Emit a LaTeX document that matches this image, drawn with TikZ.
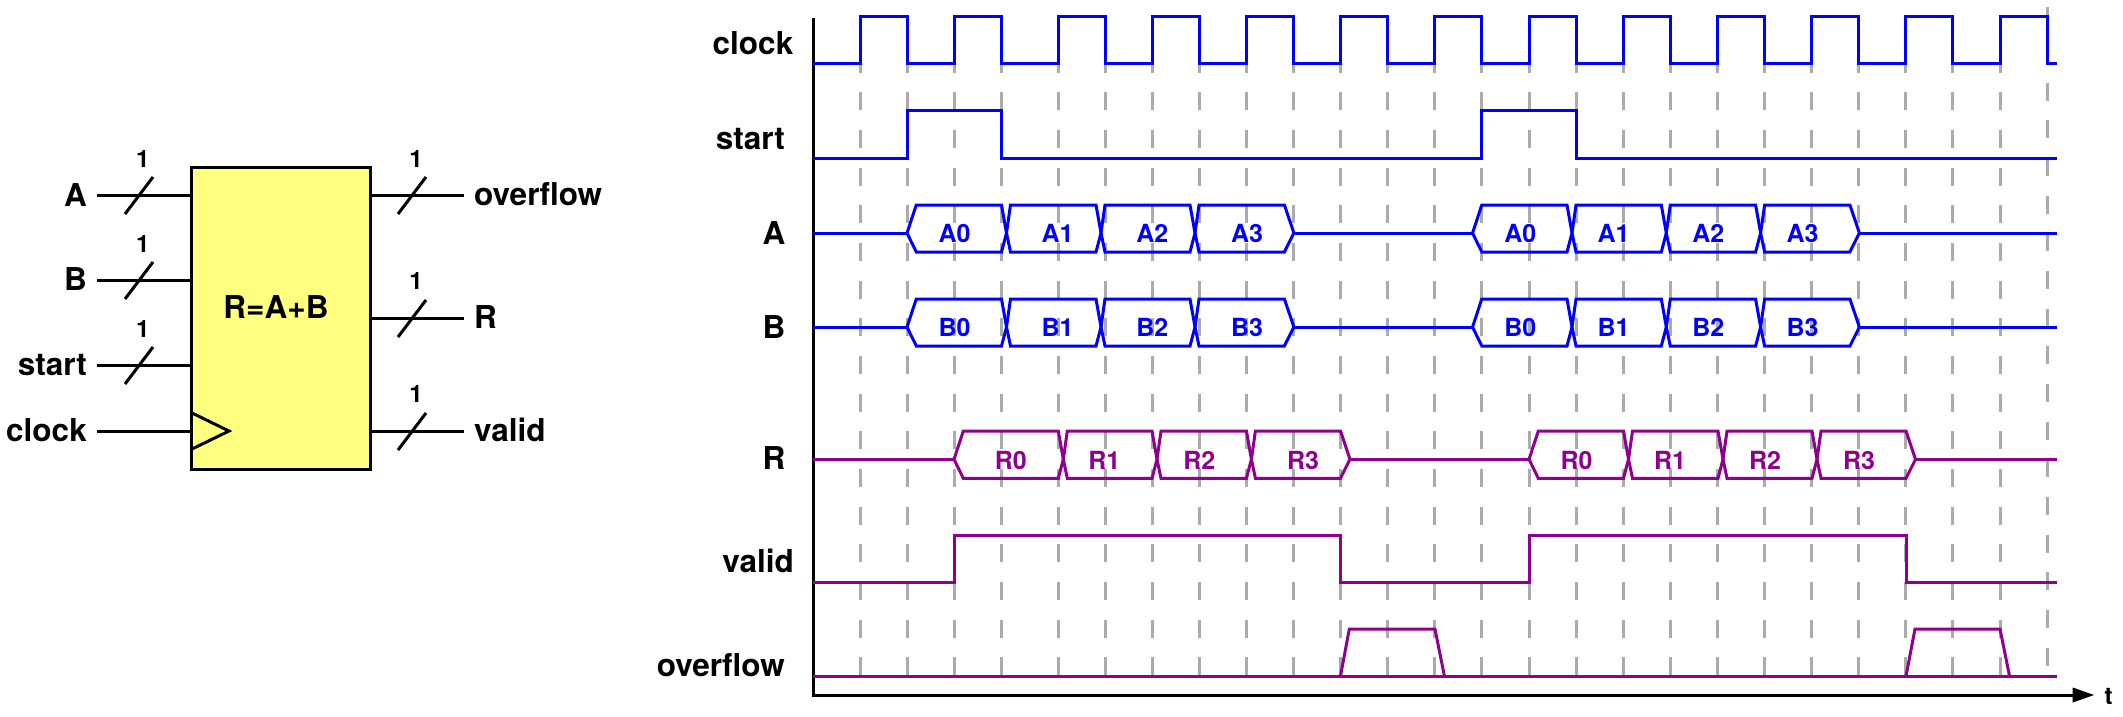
\documentclass[tikz,border=0pt]{standalone}
\usepackage{fontspec}
\setmainfont{TeX Gyre Heros}
\definecolor{sigblue}{HTML}{0000FF}
\definecolor{sigpurple}{HTML}{8F008F}
\definecolor{gridgray}{HTML}{ABABAB}
\definecolor{blockyellow}{HTML}{FFFF80}
\tikzset{
  lbl/.style={font=\fontsize{31.5}{38}\selectfont\bfseries,inner sep=0pt,text=black},
  lblr/.style={lbl,anchor=base east},
  lbll/.style={lbl,anchor=base west},
  pinw/.style={font=\fontsize{24}{28}\selectfont\bfseries,inner sep=0pt,anchor=center},
  wire/.style={line width=3pt,black},
  blockbox/.style={draw=black,fill=blockyellow,line width=3pt,rectangle,inner sep=0pt,minimum width=179pt,minimum height=302pt},
  gridln/.style={line width=3pt,gridgray,dash pattern=on 18pt off 19.67pt},
  sigb/.style={line width=3pt,sigblue},
  sigp/.style={line width=3pt,sigpurple},
  axisln/.style={line width=3pt,black},
  buslblb/.style={font=\fontsize{25}{30}\selectfont\bfseries,inner sep=0pt,anchor=base,text=sigblue},
  buslblp/.style={font=\fontsize{25}{30}\selectfont\bfseries,inner sep=0pt,anchor=base,text=sigpurple},
}
% #1 style, #2 left tip, #3..#6 transitions, #7 top, #8 mid, #9 bottom
\newcommand{\busgroup}[9]{%
  \draw[#1] (#2,#8) -- ({#2+9.3},#7) -- (#3,#7) -- ({#3+5},#8) -- (#3,#9) -- ({#2+9.3},#9) -- cycle;
  \draw[#1] ({#3+5},#8) -- ({#3+9},#7) -- (#4,#7) -- ({#4+5},#8) -- (#4,#9) -- ({#3+9},#9) -- cycle;
  \draw[#1] ({#4+5},#8) -- ({#4+9},#7) -- (#5,#7) -- ({#5+5},#8) -- (#5,#9) -- ({#4+9},#9) -- cycle;
  \draw[#1] ({#5+5},#8) -- ({#5+9},#7) -- (#6,#7) -- ({#6+9.5},#8) -- (#6,#9) -- ({#5+9},#9) -- cycle;
}
\begin{document}
\begin{tikzpicture}[x=1pt,y=-1pt]
\useasboundingbox (0,0) rectangle (2123,716);

% ---------- block symbol ----------
\node[blockbox] (blk) at (280.5,318) {};
\node[lbl,anchor=base] (eqn) at (276,318.5) {R=A+B};

\coordinate (inA) at (97,195);
\coordinate (inB) at (97,280);
\coordinate (inS) at (97,365);
\coordinate (inC) at (97,431);
\coordinate (outO) at (463.5,195);
\coordinate (outR) at (463.5,318);
\coordinate (outV) at (463.5,431);

\draw[wire] (inA) -- (inA -| blk.west);
\draw[wire] (inB) -- (inB -| blk.west);
\draw[wire] (inS) -- (inS -| blk.west);
\draw[wire] (inC) -- (inC -| blk.west);
\draw[wire] (blk.east |- outO) -- (outO);
\draw[wire] (blk.east |- outR) -- (outR);
\draw[wire] (blk.east |- outV) -- (outV);

\draw[wire] (125,214) -- (153,177);
\draw[wire] (125,299) -- (153,262);
\draw[wire] (125,384) -- (153,347);
\draw[wire] (398,214) -- (426,177);
\draw[wire] (398,337) -- (426,300);
\draw[wire] (398,450) -- (426,413);

\draw[wire] (191,412.5) -- (229,431) -- (191,449.5);

\node[pinw] (n1) at (142.7,159) {1};
\node[pinw] (n2) at (142.7,244) {1};
\node[pinw] (n3) at (142.7,329) {1};
\node[pinw] (n4) at (416,159) {1};
\node[pinw] (n5) at (416,281) {1};
\node[pinw] (n6) at (416,394) {1};

\node[lblr] (lA) at (87,206) {A};
\node[lblr] (lB) at (87,290.5) {B};
\node[lblr] (lS) at (87,375) {start};
\node[lblr] (lC) at (87,441) {clock};
\node[lbll] (lO) at (474,205) {overflow};
\node[lbll] (lR) at (474,328) {R};
\node[lbll] (lV) at (474,441) {valid};

% ---------- grid ----------
\foreach \gx in {860,907,954,1001.5,1058,1105.1,1152.2,1199.3,1246.4,1293.5,1340.6,1387.7,1434.8,1481.9,1529,1576.1,1623.2,1670.3,1717.4,1764.5,1811.6,1858.7,1905.8,1952.9,2000}
  \draw[gridln] (\gx,17) -- (\gx,676);
\draw[gridln] (2047.1,7.3) -- (2047.1,666);

% ---------- axes ----------
\coordinate (orig) at (813,695);
\coordinate (ytop) at (813,18);
\coordinate (xend) at (2094,695);
\draw[axisln] (ytop) -- (orig) -- (2075,695);
\fill[black] (2072.7,687.5) -- (xend) -- (2072.7,702.5) -- cycle;
\node[font=\fontsize{24}{28}\selectfont\bfseries,inner sep=0pt,anchor=base west] (lt) at (2104.5,704) {t};

% ---------- row labels ----------
\node[lblr] (rC) at (793.5,54.3) {clock};
\node[lblr] (rS) at (785,149) {start};
\node[lblr] (rA) at (785.5,244) {A};
\node[lblr] (rB) at (785.5,338) {B};
\node[lblr] (rR) at (785.5,469) {R};
\node[lblr] (rV) at (794,572.5) {valid};
\node[lblr] (rO) at (785,676) {overflow};

% ---------- clock ----------
\draw[sigb] (813,63) -| (860,16) -| (907,63) -| (954,16) -| (1001.5,63) -| (1058,16) -| (1105.1,63) -| (1152.2,16) -| (1199.3,63) -| (1246.4,16) -| (1293.5,63) -| (1340.6,16) -| (1387.7,63) -| (1434.8,16) -| (1481.9,63) -| (1529,16) -| (1576.1,63) -| (1623.2,16) -| (1670.3,63) -| (1717.4,16) -| (1764.5,63) -| (1811.6,16) -| (1858.7,63) -| (1905.8,16) -| (1952.9,63) -| (2000,16) -| (2047.1,63) -- (2056.7,63);

% ---------- start ----------
\draw[sigb] (813,158) -| (907,110) -| (1001.5,158) -| (1481.9,110) -| (1576.1,158) -- (2056.7,158);

% ---------- A ----------
\draw[sigb] (813,233) -- (907,233);
\busgroup{sigb}{907}{1001.5}{1096}{1190}{1284.4}{205}{233}{252}
\draw[sigb] (1293.9,233) -- (1472.5,233);
\busgroup{sigb}{1472.5}{1567}{1661.3}{1755.6}{1849.9}{205}{233}{252}
\draw[sigb] (1859.4,233) -- (2056.7,233);
\node[buslblb] (a0) at (954.6,242.3) {A0};
\node[buslblb] (a1) at (1057.5,242.3) {A1};
\node[buslblb] (a2) at (1152.4,242.3) {A2};
\node[buslblb] (a3) at (1247,242.3) {A3};
\node[buslblb] (a4) at (1520.3,242.3) {A0};
\node[buslblb] (a5) at (1613.5,242.3) {A1};
\node[buslblb] (a6) at (1708.4,242.3) {A2};
\node[buslblb] (a7) at (1802.5,242.3) {A3};

% ---------- B ----------
\draw[sigb] (813,327) -- (907,327);
\busgroup{sigb}{907}{1001.5}{1096}{1190}{1284.4}{299}{327}{346}
\draw[sigb] (1293.9,327) -- (1472.5,327);
\busgroup{sigb}{1472.5}{1567}{1661.3}{1755.6}{1849.9}{299}{327}{346}
\draw[sigb] (1859.4,327) -- (2056.7,327);
\node[buslblb] (b0) at (954.6,336) {B0};
\node[buslblb] (b1) at (1057.5,336) {B1};
\node[buslblb] (b2) at (1152.4,336) {B2};
\node[buslblb] (b3) at (1247,336) {B3};
\node[buslblb] (b4) at (1520.3,336) {B0};
\node[buslblb] (b5) at (1613.5,336) {B1};
\node[buslblb] (b6) at (1708.4,336) {B2};
\node[buslblb] (b7) at (1802.5,336) {B3};

% ---------- R ----------
\draw[sigp] (813,459.3) -- (954,459.3);
\busgroup{sigp}{954}{1058.3}{1152}{1246.4}{1340.5}{431}{459.3}{478.3}
\draw[sigp] (1350,459.3) -- (1529,459.3);
\busgroup{sigp}{1529}{1623.5}{1718}{1812}{1906}{431}{459.3}{478.3}
\draw[sigp] (1915.5,459.3) -- (2056.7,459.3);
\node[buslblp] (r0) at (1010.8,469) {R0};
\node[buslblp] (r1) at (1104.4,469) {R1};
\node[buslblp] (r2) at (1199.4,469) {R2};
\node[buslblp] (r3) at (1303,469) {R3};
\node[buslblp] (r4) at (1576.6,469) {R0};
\node[buslblp] (r5) at (1670,469) {R1};
\node[buslblp] (r6) at (1765,469) {R2};
\node[buslblp] (r7) at (1859,469) {R3};

% ---------- valid ----------
\draw[sigp] (813,582) -| (954,535) -| (1340.5,582) -| (1529,535) -| (1906,582) -- (2056.7,582);

% ---------- overflow ----------
\draw[sigp] (813,676) -- (2056.7,676);
\draw[sigp] (1340.5,676) -- (1349.3,629) -- (1435,629) -- (1444.4,676);
\draw[sigp] (1906,676) -- (1915,629) -- (2000,629) -- (2009.5,676);
\end{tikzpicture}
\end{document}
